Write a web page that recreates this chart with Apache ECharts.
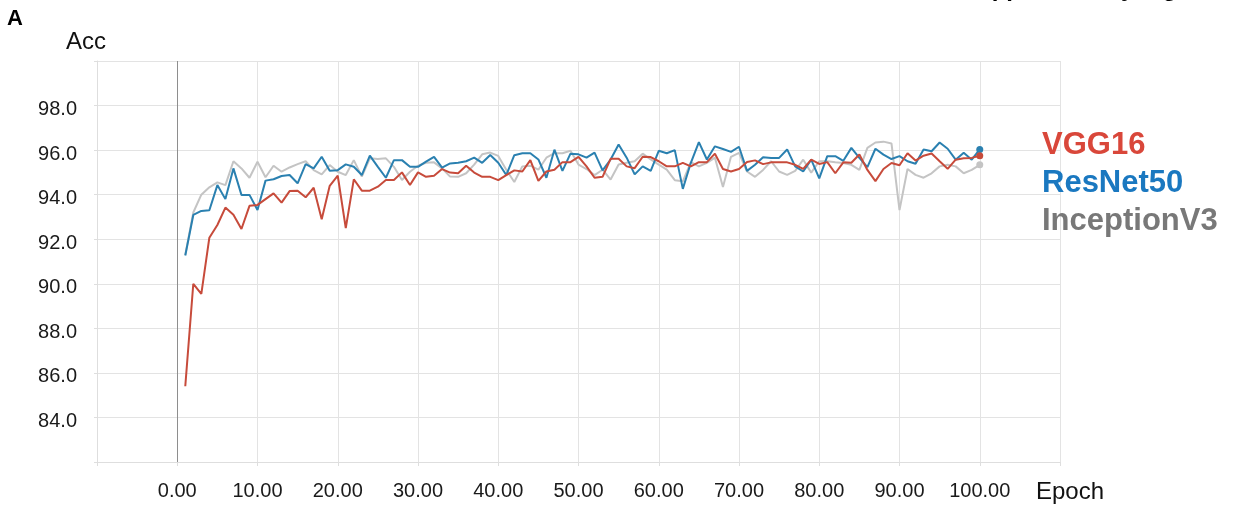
<!DOCTYPE html>
<html>
<head>
<meta charset="utf-8">
<script src="https://cdn.jsdelivr.net/npm/echarts@6/dist/echarts.min.js"></script>
<style>html,body{margin:0;padding:0;background:#fff}#c{width:1235px;height:511px}</style>
</head>
<body>
<div id="c"></div>
<script>
const epochs = [1,2,3,4,5,6,7,8,9,10,11,12,13,14,15,16,17,18,19,20,21,22,23,24,25,26,27,28,29,30,31,32,33,34,35,36,37,38,39,40,41,42,43,44,45,46,47,48,49,50,51,52,53,54,55,56,57,58,59,60,61,62,63,64,65,66,67,68,69,70,71,72,73,74,75,76,77,78,79,80,81,82,83,84,85,86,87,88,89,90,91,92,93,94,95,96,97,98,99,100];
const seriesNames = ['VGG16', 'ResNet50', 'InceptionV3'];
const vgg16 = [85.4,90.0,89.55,92.07,92.64,93.42,93.1,92.46,93.5,93.54,93.8,94.06,93.64,94.16,94.18,93.88,94.31,92.9,94.4,94.85,92.5,94.69,94.18,94.18,94.36,94.66,94.66,95.0,94.43,95.0,94.8,94.85,95.15,94.99,94.96,95.3,94.99,94.8,94.8,94.65,94.88,95.09,95.04,95.55,94.62,95.04,95.12,95.46,95.46,95.7,95.27,94.76,94.8,95.61,95.61,95.27,95.19,95.7,95.69,95.5,95.27,95.27,95.43,95.27,95.46,95.46,95.84,95.15,95.04,95.15,95.47,95.54,95.37,95.45,95.45,95.45,95.34,95.16,95.57,95.38,95.46,94.96,95.45,95.43,95.8,95.11,94.61,95.15,95.42,95.32,95.86,95.53,95.75,95.85,95.5,95.16,95.57,95.63,95.65,95.75];
const resnet50 = [91.27,93.09,93.27,93.3,94.43,93.8,95.18,93.99,93.99,93.31,94.63,94.69,94.84,94.88,94.51,95.37,95.18,95.7,95.07,95.1,95.36,95.25,94.88,95.75,95.25,94.76,95.55,95.55,95.25,95.25,95.48,95.7,95.21,95.4,95.43,95.5,95.66,95.43,95.78,95.43,94.88,95.77,95.86,95.86,95.58,94.76,96.02,95.07,95.84,95.81,95.66,95.89,95.09,95.58,96.25,95.66,94.91,95.27,95.07,95.97,95.86,96.0,94.26,95.43,96.36,95.58,96.17,96.05,95.92,96.15,95.07,95.34,95.68,95.65,95.65,96.03,95.27,95.04,95.57,94.73,95.73,95.73,95.52,96.1,95.65,95.24,96.06,95.8,95.6,95.73,95.5,95.39,96.03,95.95,96.34,96.06,95.57,95.88,95.57,96.03];
const inceptionV3 = [91.3,93.2,94.0,94.33,94.55,94.43,95.5,95.18,94.76,95.48,94.78,95.3,95.03,95.22,95.37,95.5,95.1,94.91,95.33,95.03,94.88,95.55,94.81,95.63,95.6,95.63,95.25,94.66,95.03,95.3,95.43,95.45,95.18,94.81,94.8,94.96,95.35,95.81,95.89,95.74,95.12,94.57,95.27,95.3,95.12,95.66,95.86,95.86,95.97,95.35,95.15,94.88,95.12,94.68,95.35,95.43,95.5,95.84,95.58,95.35,95.12,94.65,94.6,95.46,95.27,95.43,95.66,94.34,95.7,95.88,95.04,94.8,95.11,95.5,95.04,94.89,95.07,95.57,94.99,95.5,95.5,95.45,95.42,95.34,95.11,96.1,96.34,96.38,96.3,93.31,95.15,94.89,94.76,94.96,95.27,95.34,95.27,94.96,95.11,95.34];

const FONT = '"Liberation Sans", Arial, Helvetica, sans-serif';
const lineColors = {VGG16: '#c74b3b', ResNet50: '#2a80b0', InceptionV3: '#c4c4c4'};
const textColors = {VGG16: '#d9473a', ResNet50: '#1a78c0', InceptionV3: '#787878'};

function toPoints(vals) {
  return vals.map((v, i) => {
    const p = {value: [epochs[i], v]};
    if (i === vals.length - 1) { p.symbol = 'circle'; p.symbolSize = 7; }
    return p;
  });
}
const valuesByName = {VGG16: vgg16, ResNet50: resnet50, InceptionV3: inceptionV3};

const chart = echarts.init(document.getElementById('c'), null, {renderer: 'canvas'});
const drawOrder = ['InceptionV3', 'ResNet50', 'VGG16'];
const series = drawOrder.map((name, k) => ({
  name: name,
  type: 'line',
  data: toPoints(valuesByName[name]),
  symbol: 'none',
  showSymbol: true,
  smooth: false,
  color: lineColors[name],
  lineStyle: {width: 2, color: lineColors[name]},
  itemStyle: {color: lineColors[name]},
  z: 3 + k,
  animation: false,
  markLine: k === 0 ? {
    silent: true, symbol: 'none', label: {show: false},
    lineStyle: {color: '#8e8e8e', width: 1, type: 'solid'},
    data: [{xAxis: 0}], animation: false
  } : undefined
}));

chart.setOption({
  animation: false,
  backgroundColor: '#ffffff',
  textStyle: {fontFamily: FONT},
  grid: {left: 97, right: 175, top: 61, bottom: 49, containLabel: false},
  legend: {
    orient: 'vertical', left: 1032, top: 125,
    itemWidth: 0, itemHeight: 0, itemGap: 7, icon: 'rect',
    selectedMode: false,
    textStyle: {fontSize: 31, fontWeight: 'bold', fontFamily: FONT},
    data: seriesNames.map(n => ({name: n, textStyle: {color: textColors[n]}}))
  },
  xAxis: {
    type: 'value', min: -10, max: 110, interval: 10,
    name: 'Epoch', nameLocation: 'end', nameGap: -24,
    nameTextStyle: {fontSize: 24, color: '#111', verticalAlign: 'top', padding: [18, 0, 0, 0], fontFamily: FONT},
    axisLine: {show: true, lineStyle: {color: '#dedede'}},
    axisTick: {show: true, length: 4, lineStyle: {color: '#dedede'}},
    splitLine: {show: true, lineStyle: {color: '#e3e3e3'}},
    axisLabel: {
      fontSize: 20, color: '#1a1a1a', margin: 19, fontFamily: FONT,
      formatter: v => (v < 0 || v > 100) ? '' : v.toFixed(2)
    }
  },
  yAxis: {
    type: 'value', min: 82, max: 100, interval: 2,
    name: 'Acc', nameLocation: 'end', nameGap: 7,
    nameTextStyle: {fontSize: 24, color: '#111', padding: [0, 22, 0, 0], fontFamily: FONT},
    axisLine: {show: true, onZero: false, lineStyle: {color: '#dedede'}},
    axisTick: {show: true, length: 3, lineStyle: {color: '#dedede'}},
    splitLine: {show: true, lineStyle: {color: '#e3e3e3'}},
    axisLabel: {
      fontSize: 20, color: '#1a1a1a', margin: 20, fontFamily: FONT,
      verticalAlign: 'top', lineHeight: 8,
      formatter: v => (v <= 82 || v >= 100) ? '' : v.toFixed(1)
    }
  },
  graphic: [
    {type: 'text', left: 7, top: 8, style: {text: 'A', fill: '#000', font: 'bold 22px ' + FONT}},
    {type: 'text', x: 961, y: -11, style: {text: 'Supplementary Figure S1', fill: '#000', font: 'bold 24px ' + FONT, verticalAlign: 'middle', align: 'left'}}
  ],
  series: series
});
</script>
</body>
</html>
